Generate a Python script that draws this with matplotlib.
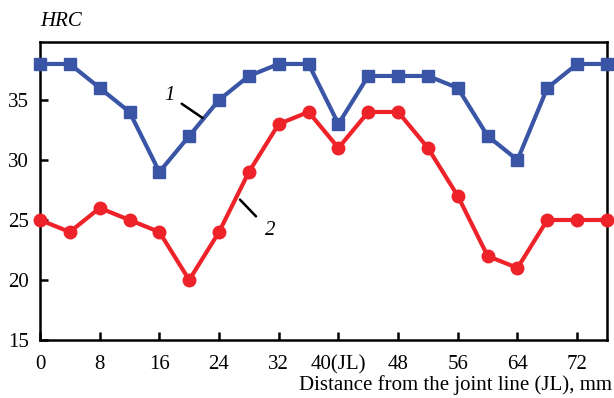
import matplotlib
matplotlib.use("Agg")
import matplotlib.pyplot as plt

x_mm = [0, 4, 8, 12, 16, 20, 24, 28, 32, 36, 40, 44, 48, 52, 56, 60, 64, 68, 72, 76]
hrc_1 = [38, 38, 36, 34, 29, 32, 35, 37, 38, 38, 33, 37, 37, 37, 36, 32, 30, 36, 38, 38]
hrc_2 = [25, 24, 26, 25, 24, 20, 24, 29, 33, 34, 31, 34, 34, 31, 27, 22, 21, 25, 25, 25]
xticks = [0, 8, 16, 24, 32, 40, 48, 56, 64, 72]
xticklabels = ["0", "8", "16", "24", "32", "40(JL)", "48", "56", "64", "72"]
yticks = [15, 20, 25, 30, 35]

plt.rcParams['font.family'] = ['Liberation Serif', 'DejaVu Serif']

fig = plt.figure(figsize=(6.14, 3.98), dpi=100)
ax = fig.add_axes([40/614, 1-340/398, 567/614, 298/398])

ax.plot(x_mm, hrc_1, color='#3A55A6', lw=3, marker='s', ms=9, clip_on=False, zorder=3)
ax.plot(x_mm, hrc_2, color='#EE2229', lw=3, marker='o', ms=9, clip_on=False, zorder=3)

ax.set_xlim(0, 76)
ax.set_ylim(15, 39.83)
ax.set_xticks(xticks)
ax.set_xticklabels(xticklabels)
ax.set_yticks(yticks)
ax.tick_params(direction='in', length=6, width=1.8, labelsize=15)
ax.tick_params(axis='x', pad=11)
ax.tick_params(axis='y', pad=8)
for s in ax.spines.values():
    s.set_linewidth(1.8)

fig.text(40/614, 1-22/398, "HRC", fontsize=15, style='italic', ha='left', va='center')
fig.text(612/614, 1-385/398, "Distance from the joint line (JL), mm", fontsize=15, ha='right', va='center')

# curve annotations
ax.annotate("1", xy=(21.8, 33.5), xytext=(17.3, 35.4), fontsize=15, style='italic',
            ha='center', va='center',
            arrowprops=dict(arrowstyle='-', color='black', lw=1.8, shrinkA=4, shrinkB=0))
ax.annotate("2", xy=(26.8, 26.7), xytext=(30.8, 24.1), fontsize=15, style='italic',
            ha='center', va='center',
            arrowprops=dict(arrowstyle='-', color='black', lw=1.8, shrinkA=6, shrinkB=0))

fig.savefig("out.png", dpi=100)
